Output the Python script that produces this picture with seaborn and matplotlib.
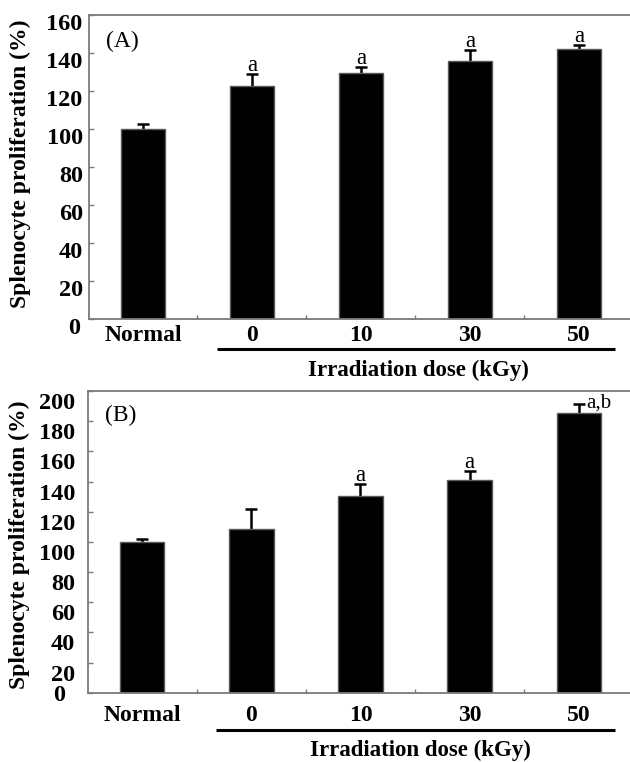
import numpy as np
import pandas as pd
import matplotlib
matplotlib.use("Agg")
import matplotlib.pyplot as plt
import matplotlib.transforms as mtransforms
import seaborn as sns

# ---------------- data ----------------
groups = ["Normal", "0", "10", "30", "50"]
dose_label = "Irradiation dose (kGy)"
ylabel = "Splenocyte proliferation (%)"

a_values = [100.0, 122.3, 129.3, 135.6, 141.7]
a_errors = [2.6, 6.6, 3.0, 5.6, 2.3]
a_marks = ["", "a", "a", "a", "a"]
a_yticks = [0, 20, 40, 60, 80, 100, 120, 140, 160]

b_values = [100.0, 108.4, 130.1, 141.3, 185.2]
b_errors = [1.8, 13.7, 8.4, 5.6, 6.4]
b_marks = ["", "", "a", "a", "a,b"]
b_yticks = [0, 20, 40, 60, 80, 100, 120, 140, 160, 180, 200]

# ---------------- style ----------------
sns.set_theme(style="white")
plt.rcParams["font.family"] = ["Liberation Serif", "DejaVu Serif"]

W, H = 630, 762
fig = plt.figure(figsize=(W / 100, H / 100), dpi=100)

spine_col = "#7a7a7a"


def px(x0, y0, x1, y1):
    return [x0 / W, 1 - y1 / H, (x1 - x0) / W, (y1 - y0) / H]


def panel(rect, values, errors, marks, yticks, tag, ylab_shift, pad_y, pad_x,
          zero_dx, underline_y, xlabel_xy, ylabel_xy):
    ax = fig.add_axes(rect)
    df = pd.DataFrame({"group": groups, "value": values})
    sns.barplot(data=df, x="group", y="value", order=groups, color="black",
                saturation=1, width=0.41, edgecolor="#5a5a5a", linewidth=1.0,
                errorbar=None, ax=ax, zorder=2)
    xs = np.arange(len(groups))
    eb = ax.errorbar(xs, values, yerr=[np.zeros(len(values)), errors], fmt="none",
                     ecolor="black", elinewidth=1.8, capsize=4.2, capthick=1.8,
                     zorder=1)
    # keep only the upper caps (one-sided error bars)
    for cl in eb[1]:
        if np.allclose(cl.get_ydata(), values):
            cl.set_visible(False)
    for i, (v, e, m) in enumerate(zip(values, errors, marks)):
        if not m:
            continue
        if "," in m:
            ax.annotate(m, (i, v + e), xytext=(5, -2.8), textcoords="offset points",
                        ha="left", va="baseline", fontsize=15, color="black")
        else:
            ax.annotate(m, (i, v + e), xytext=(0, 2.2), textcoords="offset points",
                        ha="center", va="baseline", fontsize=16.5, color="black")

    ax.set_xlim(-0.495, 4.468)
    ax.set_ylim(yticks[0], yticks[-1])
    ax.set_yticks(yticks)
    ax.set_yticklabels([str(t) for t in yticks])
    ax.set_xticks(xs)
    ax.set_xticklabels(groups)
    ax.set_xticks(xs[:-1] + 0.5, minor=True)
    ax.set_xlabel("")
    ax.set_ylabel("")

    for s in ["left", "bottom", "top"]:
        ax.spines[s].set_color(spine_col)
        ax.spines[s].set_linewidth(1.3)
    ax.spines["right"].set_visible(False)

    ax.tick_params(axis="y", which="major", direction="in", length=3.8,
                   width=1.0, color=spine_col, pad=pad_y, labelsize=17.5,
                   left=True, labelcolor="black")
    ax.tick_params(axis="x", which="major", length=0, pad=pad_x, labelsize=17,
                   labelcolor="black", bottom=True)
    ax.tick_params(axis="x", which="minor", direction="in", length=3.0,
                   width=1.0, color=spine_col, bottom=True)
    for lab in ax.get_xticklabels() + ax.get_yticklabels():
        lab.set_fontweight("bold")

    # vertical offset of y tick labels (as in the reference)
    for tick in ax.yaxis.get_major_ticks():
        lab = tick.label1
        if lab.get_text() == "0":
            off = mtransforms.ScaledTranslation(zero_dx[0] / 100, -zero_dx[1] / 100,
                                                fig.dpi_scale_trans)
        else:
            off = mtransforms.ScaledTranslation(0, -ylab_shift / 100,
                                                fig.dpi_scale_trans)
        lab.set_transform(lab.get_transform() + off)

    ax.text(0.031, 1 - tag[1], tag[0], transform=ax.transAxes, ha="left",
            va="center", fontsize=17, color="black")

    # underline for the irradiated groups
    trans = mtransforms.blended_transform_factory(ax.transData, ax.transAxes)
    ax.plot([0.68, 4.33], [underline_y, underline_y], transform=trans,
            color="black", lw=2.2, clip_on=False, solid_capstyle="butt")
    ax.set_xlim(-0.495, 4.468)

    fig.text(xlabel_xy[0] / W, 1 - xlabel_xy[1] / H, dose_label, ha="center",
             va="center", fontsize=16.5, fontweight="bold", color="black")
    fig.text(ylabel_xy[0] / W, 1 - ylabel_xy[1] / H, ylabel, ha="center",
             va="center", rotation=90, fontsize=17, fontweight="bold",
             color="black")
    return ax


panel(px(89, 14.5, 630, 319), a_values, a_errors, a_marks, a_yticks,
      ("(A)", 0.09), ylab_shift=7, pad_y=4.5, pad_x=4.0, zero_dx=(-2.5, 7),
      underline_y=-0.0985, xlabel_xy=(418, 370), ylabel_xy=(20, 164))

panel(px(88, 391, 630, 692.7), b_values, b_errors, b_marks, b_yticks,
      ("(B)", 0.08), ylab_shift=10, pad_y=9.4, pad_x=8.5, zero_dx=(-10, 0),
      underline_y=-0.1236, xlabel_xy=(420, 750), ylabel_xy=(19, 545))

fig.savefig("out.png", dpi=100)
